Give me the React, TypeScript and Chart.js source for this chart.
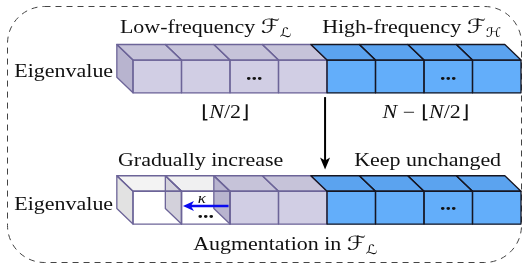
import React, { useEffect, useRef } from 'react';
import { Chart, registerables } from 'chart.js';

Chart.register(...registerables);

// ---------------- data ----------------
const cellLabels = ['1', '2', '…', '⌊N/2⌋', '⌊N/2⌋+1', '⌊N/2⌋+2', '…', 'N'];
const cellBands = ['L', 'L', 'L', 'L', 'H', 'H', 'H', 'H'];
const originalRow = [4, 5];
const augmentedRow = [0, 1];
const originalDots = [0, 0, 1, 0, 0, 0, 1, 0];
const augmentedDots = [0, 1, 0, 0, 0, 0, 1, 0];
const augmentationLevel = [0.1, 0.3, 1, 1, 1, 1, 1, 1];
const rowTitle = 'Eigenvalue';
const lowTitle = 'Low-frequency';
const highTitle = 'High-frequency';
const increaseLabel = 'Gradually increase';
const keepLabel = 'Keep unchanged';
const augLabel = 'Augmentation in';
const kappaLabel = 'κ';

// ---------------- style ----------------
const SERIF = '"Liberation Serif", "Times New Roman", serif';
const MATH = '"DejaVu Serif", "DejaVu Sans", serif';
const SX = 1.22;
const TEXT = '#111111';
const P_FRONT = '#d1cee4';
const P_TOP = '#c6c3d9';
const P_SIDE = '#b8b4cf';
const P_EDGE = '#6c6498';
const B_FRONT = '#63aefa';
const B_TOP = '#5ba3ef';
const B_EDGE = '#161622';

function augColors(level: number) {
  if (level >= 1) return { front: P_FRONT, top: P_TOP, side: P_SIDE };
  if (level < 0.2) return { front: '#ffffff', top: '#f3f3f3', side: '#e2e2e2' };
  return { front: '#ffffff', top: '#f0f0f1', side: '#d3d1db' };
}

function colorsFor(row: number, i: number) {
  if (cellBands[i] === 'H') return { front: B_FRONT, top: B_TOP, side: B_FRONT, edge: B_EDGE };
  if (row === 0) return { front: P_FRONT, top: P_TOP, side: P_SIDE, edge: P_EDGE };
  const c = augColors(augmentationLevel[i]);
  return { ...c, edge: P_EDGE };
}

type Run = { t: string; font: string; dy?: number };

function drawRuns(ctx: CanvasRenderingContext2D, runs: Run[], x: number, y: number, align: 'left' | 'center' | 'right') {
  ctx.save();
  let total = 0;
  runs.forEach((r) => {
    ctx.font = r.font;
    total += ctx.measureText(r.t).width;
  });
  const start = align === 'left' ? 0 : align === 'center' ? -total / 2 : -total;
  ctx.translate(x, y);
  ctx.scale(SX, 1);
  ctx.textAlign = 'left';
  ctx.textBaseline = 'alphabetic';
  ctx.fillStyle = TEXT;
  let cx = start;
  runs.forEach((r) => {
    ctx.font = r.font;
    ctx.fillText(r.t, cx, r.dy || 0);
    cx += ctx.measureText(r.t).width;
  });
  ctx.restore();
}

function poly(ctx: CanvasRenderingContext2D, pts: number[][]) {
  ctx.beginPath();
  ctx.moveTo(pts[0][0], pts[0][1]);
  for (let k = 1; k < pts.length; k++) ctx.lineTo(pts[k][0], pts[k][1]);
  ctx.closePath();
}

const cubePlugin = {
  id: 'cube3d',
  beforeDraw(chart: any) {
    const ctx: CanvasRenderingContext2D = chart.ctx;
    ctx.save();
    ctx.fillStyle = '#ffffff';
    ctx.fillRect(0, 0, chart.width, chart.height);
    const x0 = 7.5, y0 = 6.5, x1 = chart.width - 2.5, y1 = chart.height - 7.5, r = 37;
    ctx.setLineDash([6, 5]);
    ctx.strokeStyle = '#444444';
    ctx.lineWidth = 1;
    ctx.beginPath();
    ctx.moveTo(x0 + r, y0);
    ctx.lineTo(x1 - r, y0);
    ctx.arcTo(x1, y0, x1, y0 + r, r);
    ctx.lineTo(x1, y1 - r);
    ctx.arcTo(x1, y1, x1 - r, y1, r);
    ctx.lineTo(x0 + r, y1);
    ctx.arcTo(x0, y1, x0, y1 - r, r);
    ctx.lineTo(x0, y0 + r);
    ctx.arcTo(x0, y0, x0 + r, y0, r);
    ctx.stroke();
    ctx.restore();
  },
  afterDatasetsDraw(chart: any) {
    const ctx: CanvasRenderingContext2D = chart.ctx;
    ctx.save();
    ctx.lineJoin = 'round';
    for (let row = 0; row < 2; row++) {
      const meta = chart.getDatasetMeta(row);
      const boxes = meta.data.map((el: any) => {
        const p = el.getProps(['x', 'y', 'base', 'width'], true);
        const l = p.x - p.width / 2;
        const r = p.x + p.width / 2;
        const top = Math.min(p.y, p.base);
        const bottom = Math.max(p.y, p.base);
        return { l, r, top, bottom, d: p.width / 3, dd: p.width * 0.32 };
      });
      boxes.forEach((b: any, i: number) => {
        const c = colorsFor(row, i);
        poly(ctx, [[b.l, b.top], [b.r, b.top], [b.r - b.d, b.top - b.dd], [b.l - b.d, b.top - b.dd]]);
        ctx.fillStyle = c.top;
        ctx.fill();
      });
      const sides: boolean[] = boxes.map((_: any, i: number) => {
        if (i === 0) return true;
        if (row === 1 && augmentationLevel[i - 1] < 1) return true;
        return false;
      });
      boxes.forEach((b: any, i: number) => {
        if (!sides[i]) return;
        const c = colorsFor(row, i);
        poly(ctx, [[b.l, b.top], [b.l - b.d, b.top - b.dd], [b.l - b.d, b.bottom - b.dd], [b.l, b.bottom]]);
        ctx.fillStyle = c.side;
        ctx.fill();
      });
      ctx.lineWidth = 1.3;
      boxes.forEach((b: any, i: number) => {
        const c = colorsFor(row, i);
        ctx.strokeStyle = c.edge;
        ctx.strokeRect(b.l, b.top, b.r - b.l, b.bottom - b.top);
        poly(ctx, [[b.l, b.top], [b.r, b.top], [b.r - b.d, b.top - b.dd], [b.l - b.d, b.top - b.dd]]);
        ctx.stroke();
        if (sides[i]) {
          poly(ctx, [[b.l, b.top], [b.l - b.d, b.top - b.dd], [b.l - b.d, b.bottom - b.dd], [b.l, b.bottom]]);
          ctx.stroke();
        }
      });
      const dots = row === 0 ? originalDots : augmentedDots;
      boxes.forEach((b: any, i: number) => {
        if (!dots[i]) return;
        const cx = (b.l + b.r) / 2;
        const yy = row === 0 ? b.top + (b.bottom - b.top) * 0.62 : (i === 1 ? b.top + (b.bottom - b.top) * 0.8 : b.top + (b.bottom - b.top) * 0.58);
        drawRuns(ctx, [{ t: '...', font: `bold 18px ${SERIF}` }], cx, yy, 'center');
      });
    }
    ctx.restore();
  },
  afterDraw(chart: any) {
    const ctx: CanvasRenderingContext2D = chart.ctx;
    const xs = chart.scales.x;
    const ys = chart.scales.y;
    const X = (v: number) => xs.getPixelForValue(v);
    const Y = (v: number) => ys.getPixelForValue(v);
    const f18 = `18px ${SERIF}`;
    const fi18 = `italic 18px ${SERIF}`;
    const mF = `italic 20px ${MATH}`;
    const mSub = `italic 13px ${MATH}`;

    drawRuns(ctx, [{ t: rowTitle, font: f18 }], X(-0.41), Y(originalRow[0] + 0.49), 'right');
    drawRuns(ctx, [{ t: rowTitle, font: f18 }], X(-0.41), Y(augmentedRow[0] + 0.43), 'right');

    drawRuns(ctx, [
      { t: lowTitle + ' ', font: f18 },
      { t: 'ℱ', font: mF },
      { t: 'ℒ', font: mSub, dy: 4 },
    ], X(-0.27), Y(originalRow[1] + 0.82), 'left');
    drawRuns(ctx, [
      { t: highTitle + ' ', font: f18 },
      { t: 'ℱ', font: mF },
      { t: 'ℋ', font: mSub, dy: 4 },
    ], X(3.9), Y(originalRow[1] + 0.82), 'left');

    drawRuns(ctx, [{ t: '⌊', font: f18 }, { t: 'N', font: fi18 }, { t: '/2⌋', font: f18 }], X(1.9), Y(originalRow[0] - 0.77), 'center');
    drawRuns(ctx, [
      { t: 'N', font: fi18 },
      { t: ' − ⌊', font: f18 },
      { t: 'N', font: fi18 },
      { t: '/2⌋', font: f18 },
    ], X(6.04), Y(originalRow[0] - 0.77), 'center');

    const ax = X(3.96);
    const aTop = Y(originalRow[0] - 0.13);
    const aTip = Y(augmentedRow[1] + 0.66);
    ctx.save();
    ctx.strokeStyle = '#000';
    ctx.fillStyle = '#000';
    ctx.lineWidth = 2;
    ctx.beginPath();
    ctx.moveTo(ax, aTop);
    ctx.lineTo(ax, aTip - 8);
    ctx.stroke();
    ctx.beginPath();
    ctx.moveTo(ax, aTip);
    ctx.lineTo(ax - 5, aTip - 12);
    ctx.lineTo(ax, aTip - 9);
    ctx.lineTo(ax + 5, aTip - 12);
    ctx.closePath();
    ctx.fill();
    ctx.restore();

    drawRuns(ctx, [{ t: increaseLabel, font: f18 }], X(-0.31), Y(augmentedRow[1] + 0.77), 'left');
    drawRuns(ctx, [{ t: keepLabel, font: f18 }], X(4.56), Y(augmentedRow[1] + 0.77), 'left');

    drawRuns(ctx, [
      { t: augLabel + ' ', font: f18 },
      { t: 'ℱ', font: mF },
      { t: 'ℒ', font: mSub, dy: 4 },
    ], X(1.24), Y(augmentedRow[0] - 0.8), 'left');

    const kx0 = X(1.97);
    const kx1 = X(1.03);
    const ky = Y(augmentedRow[0] + 0.55);
    ctx.save();
    ctx.strokeStyle = '#0a0af0';
    ctx.fillStyle = '#0a0af0';
    ctx.lineWidth = 2.6;
    ctx.beginPath();
    ctx.moveTo(kx0, ky);
    ctx.lineTo(kx1 + 8, ky);
    ctx.stroke();
    ctx.beginPath();
    ctx.moveTo(kx1, ky);
    ctx.lineTo(kx1 + 11, ky - 5);
    ctx.lineTo(kx1 + 8, ky);
    ctx.lineTo(kx1 + 11, ky + 5);
    ctx.closePath();
    ctx.fill();
    ctx.restore();
    drawRuns(ctx, [{ t: kappaLabel, font: `italic 14px ${SERIF}` }], X(1.42), Y(augmentedRow[0] + 0.65), 'center');
  },
};

export default function App() {
  const ref = useRef<HTMLCanvasElement | null>(null);
  useEffect(() => {
    if (!ref.current) return;
    const bandFront = (i: number) => (cellBands[i] === 'H' ? B_FRONT : P_FRONT);
    const chart = new Chart(ref.current, {
      type: 'bar',
      data: {
        labels: cellLabels,
        datasets: [
          {
            label: 'Original',
            data: cellLabels.map((_, i) => ({ x: i + 0.5, y: originalRow })) as any,
            backgroundColor: cellLabels.map((_, i) => bandFront(i)),
            borderWidth: 0,
            grouped: false,
            barPercentage: 1,
            categoryPercentage: 1,
          } as any,
          {
            label: 'Augmented',
            data: cellLabels.map((_, i) => ({ x: i + 0.5, y: augmentedRow })) as any,
            backgroundColor: cellLabels.map((_, i) => colorsFor(1, i).front),
            borderWidth: 0,
            grouped: false,
            barPercentage: 1,
            categoryPercentage: 1,
          } as any,
        ],
      },
      options: {
        responsive: false,
        animation: false,
        devicePixelRatio: 1,
        layout: { padding: { left: 133, right: 3, top: 0, bottom: 0 } },
        plugins: { legend: { display: false }, tooltip: { enabled: false } },
        events: [],
        scales: {
          x: { type: 'linear', min: 0, max: 8, offset: false, display: false },
          y: { type: 'linear', min: -1.4, max: 6.83, display: false },
        },
      },
      plugins: [cubePlugin],
    });
    return () => chart.destroy();
  }, []);
  return (
    <div style={{ position: 'fixed', left: 0, top: 0, width: 524, height: 270, background: '#fff' }}>
      <canvas ref={ref} width={524} height={270} style={{ display: 'block' }} />
    </div>
  );
}
